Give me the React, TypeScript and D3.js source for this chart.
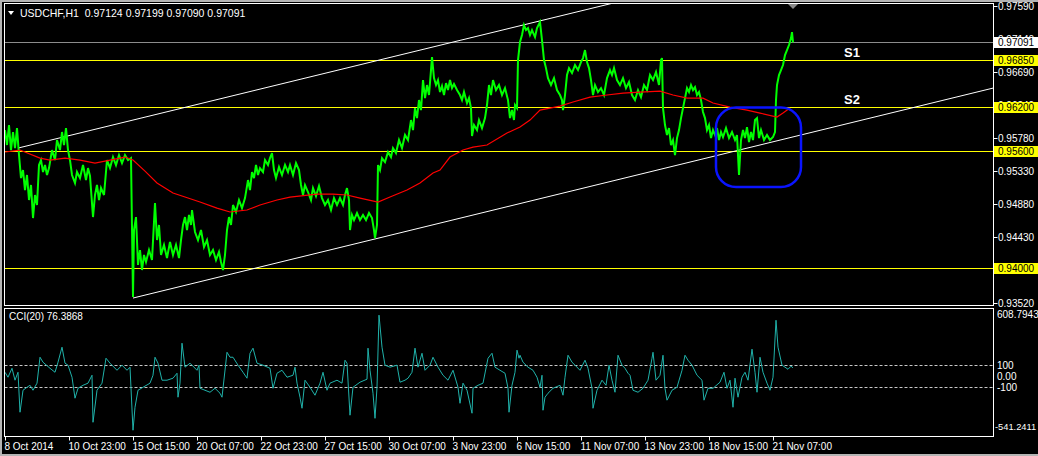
import { useEffect, useRef } from "react";
import * as d3 from "d3";

const title = "USDCHF,H1  0.97124 0.97199 0.97090 0.97091";
const cciTitle = "CCI(20) 76.3868";
const lastPrice = 0.97091;

const priceTicks = [0.9759, 0.9714, 0.9669, 0.9624, 0.9578, 0.9533, 0.9488, 0.9443, 0.9398, 0.9352];
const supportLevels = [0.9685, 0.962, 0.956, 0.94];
const levelNames: [string, number, number][] = [
  ["S1", 847, 0.9685],
  ["S2", 847, 0.962],
];

const timeLabels = [
  "8 Oct 2014", "10 Oct 23:00", "15 Oct 15:00", "20 Oct 07:00", "22 Oct 23:00",
  "27 Oct 15:00", "30 Oct 07:00", "3 Nov 23:00", "6 Nov 15:00", "11 Nov 07:00",
  "13 Nov 23:00", "18 Nov 15:00", "21 Nov 07:00",
];

// [bar, price]
const priceSeries: [number, number][] = [
  [0, 0.9589], [2, 0.95685], [4, 0.95959], [6, 0.95616], [8, 0.95863], [10, 0.95643], [12, 0.95917],
  [14, 0.95548], [16, 0.95232], [18, 0.95342], [20, 0.95068], [22, 0.95274], [24, 0.94931], [26, 0.95137],
  [28, 0.94684], [30, 0.95], [32, 0.94863], [34, 0.95411], [36, 0.95479], [38, 0.95315], [40, 0.95411],
  [42, 0.95274], [44, 0.95369], [47, 0.95616], [50, 0.95479], [52, 0.95753], [55, 0.95616], [57, 0.95863],
  [59, 0.95685], [61, 0.95917], [63, 0.95616], [65, 0.95479], [67, 0.95274], [70, 0.95164], [72, 0.95315],
  [75, 0.95232], [78, 0.95411], [81, 0.95205], [83, 0.95369], [85, 0.9526], [88, 0.94698], [90, 0.95],
  [92, 0.95137], [94, 0.94931], [96, 0.95095], [99, 0.95], [102, 0.95479], [105, 0.95369], [108, 0.9552],
  [111, 0.95411], [114, 0.95548], [117, 0.95438], [120, 0.95548], [123, 0.95479], [126, 0.95506],
  [128, 0.93602], [129, 0.9452], [131, 0.94698], [133, 0.94041], [135, 0.94246], [137, 0.93972],
  [139, 0.94178], [141, 0.94082], [144, 0.94246], [147, 0.94109], [150, 0.9489], [152, 0.94383],
  [154, 0.94589], [156, 0.94178], [159, 0.94315], [162, 0.94136], [165, 0.94356], [168, 0.94178],
  [171, 0.94315], [174, 0.94136], [176, 0.94383], [178, 0.94589], [180, 0.94698], [182, 0.9452],
  [184, 0.94726], [186, 0.94589], [187, 0.94794], [190, 0.94493], [193, 0.94383], [196, 0.9452],
  [199, 0.94287], [202, 0.94383], [205, 0.94178], [208, 0.94246], [211, 0.94109], [214, 0.94219],
  [216, 0.94082], [218, 0.93972], [220, 0.94178], [222, 0.9452], [224, 0.94698], [226, 0.94589],
  [228, 0.94863], [231, 0.94767], [234, 0.94931], [237, 0.94821], [240, 0.94958], [243, 0.95205],
  [245, 0.95068], [247, 0.95315], [249, 0.95232], [251, 0.95411], [253, 0.95274], [255, 0.95369],
  [258, 0.95315], [260, 0.95479], [263, 0.95411], [265, 0.95506], [267, 0.95575], [269, 0.95342],
  [271, 0.95232], [274, 0.95383], [277, 0.95274], [280, 0.95411], [283, 0.95315], [285, 0.95411],
  [288, 0.95274], [291, 0.95438], [294, 0.95342], [296, 0.95137], [298, 0.95], [300, 0.95137],
  [303, 0.95041], [306, 0.94931], [308, 0.95095], [311, 0.94986], [314, 0.95123], [317, 0.94958],
  [320, 0.94863], [323, 0.94931], [326, 0.94794], [329, 0.94958], [332, 0.94863], [335, 0.94958],
  [338, 0.94863], [340, 0.95], [342, 0.95095], [344, 0.94931], [345, 0.9452], [347, 0.94726],
  [349, 0.94657], [352, 0.94753], [355, 0.94657], [358, 0.94726], [361, 0.94657], [364, 0.94753],
  [367, 0.94684], [369, 0.9452], [370, 0.9441], [372, 0.94589], [373, 0.95411], [375, 0.95342],
  [377, 0.95506], [380, 0.95452], [383, 0.95589], [386, 0.9552], [388, 0.95643], [391, 0.95575],
  [394, 0.95753], [397, 0.95643], [400, 0.95822], [403, 0.95753], [406, 0.96027], [408, 0.9589],
  [410, 0.96191], [412, 0.96054], [414, 0.96301], [416, 0.96164], [418, 0.96575], [420, 0.96328],
  [422, 0.96507], [424, 0.9637], [426, 0.96712], [427, 0.9689], [429, 0.96602], [431, 0.96507],
  [433, 0.96575], [435, 0.96411], [437, 0.96493], [439, 0.9637], [441, 0.96534], [443, 0.96438],
  [445, 0.96575], [447, 0.96465], [449, 0.9652], [452, 0.96438], [455, 0.9637], [457, 0.96301],
  [459, 0.96411], [462, 0.9626], [464, 0.96328], [466, 0.96191], [467, 0.95808], [469, 0.95959],
  [472, 0.9589], [474, 0.96027], [477, 0.95917], [480, 0.96054], [482, 0.96233], [484, 0.96507],
  [486, 0.9637], [488, 0.96575], [491, 0.96438], [494, 0.96507], [497, 0.9637], [500, 0.96465],
  [503, 0.96301], [505, 0.96054], [507, 0.96164], [509, 0.96027], [510, 0.96233], [512, 0.96191],
  [513, 0.96849], [515, 0.97096], [517, 0.97192], [519, 0.97329], [521, 0.9726], [523, 0.97287],
  [525, 0.97192], [527, 0.9726], [530, 0.97164], [532, 0.97287], [535, 0.9737], [537, 0.97123],
  [539, 0.96849], [541, 0.96739], [543, 0.96602], [546, 0.96507], [549, 0.96602], [552, 0.96438],
  [555, 0.9637], [557, 0.96301], [558, 0.96164], [560, 0.9637], [562, 0.96644], [564, 0.96739],
  [567, 0.96671], [570, 0.96781], [573, 0.96712], [576, 0.96822], [578, 0.96876], [580, 0.96986],
  [582, 0.96822], [584, 0.96739], [586, 0.96575], [588, 0.9637], [590, 0.96507], [593, 0.96411],
  [596, 0.96465], [599, 0.9637], [602, 0.96602], [605, 0.96712], [607, 0.96644], [609, 0.96739],
  [612, 0.96575], [615, 0.96507], [618, 0.96602], [621, 0.96465], [624, 0.96548], [627, 0.9637],
  [630, 0.96301], [633, 0.96438], [636, 0.96342], [639, 0.96507], [642, 0.96438], [645, 0.96644],
  [648, 0.96575], [651, 0.96685], [654, 0.96507], [656, 0.96849], [657, 0.96876], [658, 0.96191],
  [660, 0.95959], [662, 0.95822], [664, 0.95917], [666, 0.95685], [668, 0.95753], [670, 0.95548],
  [672, 0.9578], [674, 0.9589], [676, 0.96054], [678, 0.96191], [680, 0.96328], [682, 0.96465],
  [684, 0.96411], [686, 0.96507], [688, 0.96438], [690, 0.96479], [692, 0.9637], [694, 0.96411],
  [696, 0.96301], [698, 0.96137], [700, 0.96054], [702, 0.9589], [704, 0.95959], [706, 0.9578],
  [708, 0.9589], [710, 0.95822], [712, 0.95917], [714, 0.95753], [716, 0.95863], [718, 0.95794],
  [721, 0.95917], [724, 0.9578], [727, 0.95863], [730, 0.95753], [732, 0.95822], [734, 0.95274],
  [736, 0.95753], [738, 0.9589], [740, 0.9578], [742, 0.95931], [744, 0.95726], [746, 0.95863],
  [748, 0.95753], [750, 0.96027], [752, 0.96054], [754, 0.9578], [756, 0.9589], [759, 0.95753],
  [762, 0.95822], [765, 0.95753], [768, 0.95794], [770, 0.95863], [771, 0.96301], [772, 0.96507],
  [774, 0.96644], [776, 0.96712], [778, 0.96781], [780, 0.96918], [782, 0.96986], [784, 0.97055],
  [786, 0.9715], [787, 0.97233], [788, 0.97091],
];

// moving average (red)
const maSeries: [number, number][] = [
  [0, 0.95589], [15, 0.95616], [35, 0.95506], [45, 0.95479], [60, 0.95506], [75, 0.95479], [90, 0.95438],
  [105, 0.95479], [120, 0.9552], [128, 0.95479], [140, 0.95328], [152, 0.95164], [168, 0.95027],
  [180, 0.94972], [195, 0.94904], [212, 0.94821], [225, 0.94767], [242, 0.94794], [255, 0.94863],
  [272, 0.94931], [285, 0.94972], [312, 0.95013], [328, 0.95013], [342, 0.95], [355, 0.94958],
  [373, 0.94904], [385, 0.94972], [402, 0.95068], [415, 0.95164], [428, 0.95301], [435, 0.95342],
  [445, 0.9552], [458, 0.95616], [468, 0.95657], [482, 0.95685], [502, 0.95849], [515, 0.95931],
  [525, 0.96027], [535, 0.96164], [555, 0.96219], [568, 0.96274], [585, 0.96342], [602, 0.9637],
  [618, 0.96397], [635, 0.96411], [655, 0.96424], [668, 0.9637], [682, 0.96328], [698, 0.96328],
  [708, 0.9626], [725, 0.96205], [742, 0.96164], [755, 0.96123], [772, 0.96068], [778, 0.96123],
  [785, 0.96191],
];

const cciSeries: [number, number][] = [
  [0, 36], [3, -9], [7, 72], [10, -36], [13, 36], [15, -326], [18, -127], [22, -100], [25, -82], [28, -127],
  [32, -63], [35, 172], [38, 127], [45, 72], [50, 36], [53, 127], [57, 263], [60, 118], [63, 100], [67, -9],
  [70, -199], [73, -109], [78, -82], [83, -63], [87, 9], [88, -417], [92, -127], [97, -63], [101, 163],
  [105, 118], [112, 54], [117, 100], [122, 54], [125, 82], [128, -489], [130, -281], [133, -127],
  [138, -100], [145, -63], [148, 9], [150, 172], [153, 118], [157, -36], [162, -36], [168, -18], [172, 27],
  [173, -190], [175, -63], [177, 299], [180, 82], [185, 118], [192, 54], [194, 100], [195, -109],
  [200, -127], [205, -145], [210, -109], [215, -154], [217, -190], [222, 217], [225, 172], [228, 172],
  [233, 100], [238, 36], [242, -18], [245, 208], [248, 254], [252, 118], [258, 100], [265, 72],
  [268, -109], [272, 27], [277, 54], [282, -9], [288, 9], [290, 82], [292, -63], [295, -190], [297, -290],
  [300, -36], [305, -100], [310, -172], [315, -63], [318, 36], [322, -127], [325, -63], [332, -36],
  [337, -63], [340, 145], [342, 118], [345, -353], [348, -100], [355, -54], [362, -27], [363, 254],
  [365, 54], [368, -154], [370, -381], [372, -100], [374, 553], [377, 263], [380, 100], [385, 82],
  [392, 100], [395, -54], [400, -36], [403, -18], [407, 36], [410, 254], [413, 82], [417, 208], [420, 54],
  [425, 100], [428, 172], [433, 82], [438, 9], [443, -36], [448, 54], [453, -100], [455, -245], [458, -63],
  [462, -127], [467, -335], [468, -109], [473, -82], [478, -63], [483, 163], [487, 208], [490, 82],
  [495, 54], [500, 27], [503, -109], [504, -326], [507, -82], [510, 36], [512, 236], [514, 163], [515, 190],
  [518, 127], [523, 82], [528, 54], [532, -9], [535, -100], [537, 9], [538, -308], [540, -190], [543, -154],
  [548, -109], [555, -82], [558, -172], [560, -9], [563, 190], [567, 127], [570, 100], [575, 54], [580, 145],
  [583, 72], [587, -109], [588, -290], [592, -127], [597, -36], [601, -82], [604, 100], [607, -36],
  [610, -145], [613, 190], [617, 100], [620, 72], [623, 27], [625, 9], [628, -127], [633, -145],
  [638, -109], [643, -36], [647, 163], [648, 217], [651, -36], [655, 9], [658, 190], [660, -109],
  [662, -217], [667, -127], [672, -100], [677, 54], [680, 190], [683, 145], [687, 100], [692, 9],
  [697, -36], [699, -217], [703, -109], [708, -109], [715, -54], [719, 36], [722, -109], [725, -36],
  [728, -281], [730, -18], [733, -190], [737, -9], [740, 36], [743, -36], [747, 245], [750, 36],
  [752, -145], [755, 172], [758, 36], [762, -63], [765, -127], [768, -9], [771, 507], [773, 263],
  [777, 100], [780, 82], [783, 63], [786, 91], [788, 76.3868],
];
const cciLevels = [100, -100];
const cciLabels: [number, string][] = [
  [608.7943, "608.7943"], [100, "100"], [0, "0.00"], [-100, "-100"], [-541.2411, "-541.2411"],
];

// trend channel anchors [bar, price]
const upperChannel: [number, number][] = [[13, 0.95643], [600, 0.97603]];
const lowerChannel: [number, number][] = [[128, 0.93588], [988, 0.96465]];
// highlighted consolidation zone
const zoneBars = [711, 796];
const zonePrices = [0.962, 0.9511];

const W = 1038;
const H = 456;
const FONT = "'Liberation Sans', Arial, sans-serif";
const FS = 10;

export default function App() {
  const ref = useRef<SVGSVGElement>(null);

  useEffect(() => {
    const svg = d3.select(ref.current);
    svg.selectAll("*").remove();

    const left = 4.5, right = 993.5;
    const mainTop = 3.5, mainBottom = 305.5;
    const subTop = 308.5, subBottom = 436.5;

    const x = d3.scaleLinear().domain([0, 988]).range([5, 993]);
    const y = d3.scaleLinear().domain([0.9352, 0.9759]).range([303, 6]);
    const yc = d3.scaleLinear().domain([-541.2411, 608.7943]).range([436, 309]);

    svg.append("rect").attr("width", W).attr("height", H).attr("fill", "#000");

    const defs = svg.append("defs");
    defs.append("clipPath").attr("id", "clipMain").append("rect")
      .attr("x", left).attr("y", mainTop).attr("width", right - left).attr("height", mainBottom - mainTop);
    defs.append("clipPath").attr("id", "clipSub").append("rect")
      .attr("x", left).attr("y", subTop).attr("width", right - left).attr("height", subBottom - subTop);

    const main = svg.append("g").attr("clip-path", "url(#clipMain)");

    // support levels
    main.selectAll("line.lvl").data(supportLevels).enter().append("line")
      .attr("x1", left).attr("x2", right)
      .attr("y1", (d) => Math.round(y(d)) + 0.5).attr("y2", (d) => Math.round(y(d)) + 0.5)
      .attr("stroke", "#ffff00").attr("stroke-width", 1);

    // last price line
    main.append("line")
      .attr("x1", left).attr("x2", right)
      .attr("y1", Math.round(y(lastPrice)) + 0.5).attr("y2", Math.round(y(lastPrice)) + 0.5)
      .attr("stroke", "#8c8c8c");

    // channel rays
    const ray = (a: [number, number][], endBar: number) => {
      const slope = (a[1][1] - a[0][1]) / (a[1][0] - a[0][0]);
      return [a[0], [endBar, a[0][1] + slope * (endBar - a[0][0])]] as [number, number][];
    };
    const seg = d3.line<[number, number]>().x((d) => x(d[0])).y((d) => y(d[1]));
    [ray(upperChannel, 988), ray(lowerChannel, 988)].forEach((pts) => {
      main.append("path").attr("d", seg(pts)).attr("fill", "none")
        .attr("stroke", "#ffffff").attr("stroke-width", 1);
    });

    // price
    main.append("path").datum(priceSeries).attr("d", seg)
      .attr("fill", "none").attr("stroke", "#00ff00").attr("stroke-width", 2)
      .attr("stroke-linejoin", "miter");

    // moving average
    main.append("path").datum(maSeries).attr("d", seg)
      .attr("fill", "none").attr("stroke", "#ff0000").attr("stroke-width", 1.2);

    // zone box
    main.append("rect")
      .attr("x", x(zoneBars[0])).attr("y", y(zonePrices[0]))
      .attr("width", x(zoneBars[1]) - x(zoneBars[0]))
      .attr("height", y(zonePrices[1]) - y(zonePrices[0]))
      .attr("rx", 20).attr("ry", 20)
      .attr("fill", "none").attr("stroke", "#0a14ff").attr("stroke-width", 2.5);

    // S1 / S2
    main.selectAll("text.lvlname").data(levelNames).enter().append("text")
      .attr("x", (d) => x(d[1])).attr("y", (d) => y(d[2]) - 3)
      .attr("text-anchor", "middle").attr("fill", "#ffffff")
      .attr("font-family", FONT).attr("font-weight", "bold").attr("font-size", 13)
      .text((d) => d[0]);

    // title
    svg.append("path").attr("d", "M8,11 L14,11 L11,15 Z").attr("fill", "#ffffff");
    svg.append("text").attr("x", 20).attr("y", 16.5)
      .attr("fill", "#ffffff").attr("font-family", FONT).attr("font-size", 10.5)
      .style("white-space", "pre").text(title);

    // shift marker
    const sx = x(788);
    svg.append("path").attr("d", `M${sx - 5},4 L${sx + 5},4 L${sx},9 Z`).attr("fill", "#8a8a8a");

    // price axis
    const axis = svg.append("g");
    priceTicks.forEach((t) => {
      const ty = Math.round(y(t)) + 0.5;
      axis.append("line").attr("x1", right).attr("x2", right + 4).attr("y1", ty).attr("y2", ty)
        .attr("stroke", "#ffffff");
      axis.append("text").attr("x", 998).attr("y", ty + 3.5)
        .attr("fill", "#ffffff").attr("font-family", FONT).attr("font-size", FS)
        .text(t.toFixed(5));
    });

    const tag = (p: number, bg: string) => {
      const ty = Math.round(y(p)) + 0.5;
      axis.append("rect").attr("x", 994).attr("y", ty - 5.5).attr("width", 44).attr("height", 11)
        .attr("fill", bg);
      axis.append("text").attr("x", 998).attr("y", ty + 3.5)
        .attr("fill", "#000000").attr("font-family", FONT).attr("font-size", FS)
        .text(p.toFixed(5));
    };
    supportLevels.forEach((p) => tag(p, "#ffff00"));
    tag(lastPrice, "#ffffff");

    // CCI sub window
    const sub = svg.append("g").attr("clip-path", "url(#clipSub)");
    sub.selectAll("line.cl").data(cciLevels).enter().append("line")
      .attr("x1", left).attr("x2", right)
      .attr("y1", (d) => Math.round(yc(d)) + 0.5).attr("y2", (d) => Math.round(yc(d)) + 0.5)
      .attr("stroke", "#c8c8c8").attr("stroke-dasharray", "3,2");
    const cciLine = d3.line<[number, number]>().x((d) => x(d[0])).y((d) => yc(d[1]));
    sub.append("path").datum(cciSeries).attr("d", cciLine)
      .attr("fill", "none").attr("stroke", "#20b2aa").attr("stroke-width", 1);

    svg.append("text").attr("x", 9).attr("y", 320)
      .attr("fill", "#ffffff").attr("font-family", FONT).attr("font-size", FS)
      .text(cciTitle);

    cciLabels.forEach(([v, label]) => {
      const ty = Math.round(yc(v)) + 0.5;
      const isMin = v === -541.2411;
      const ly = v === 608.7943 ? ty + 8 : isMin ? ty - 7 : ty + 3.5;
      svg.append("text").attr("x", isMin ? 995 : 997).attr("y", ly)
        .attr("fill", "#ffffff").attr("font-family", FONT).attr("font-size", isMin ? 9.3 : FS)
        .text(label);
    });

    // panel frames
    svg.append("rect").attr("x", left).attr("y", mainTop)
      .attr("width", right - left).attr("height", mainBottom - mainTop)
      .attr("fill", "none").attr("stroke", "#ffffff");
    svg.append("rect").attr("x", left).attr("y", subTop)
      .attr("width", right - left).attr("height", subBottom - subTop)
      .attr("fill", "none").attr("stroke", "#ffffff");

    // time axis
    timeLabels.forEach((label, i) => {
      const tx = Math.round(x(i * 64)) + 0.5;
      svg.append("line").attr("x1", tx).attr("x2", tx).attr("y1", subBottom).attr("y2", subBottom + 4)
        .attr("stroke", "#ffffff");
      svg.append("text").attr("x", tx - 1).attr("y", 450)
        .attr("fill", "#ffffff").attr("font-family", FONT).attr("font-size", FS)
        .text(label);
    });

    // outer window edge
    svg.append("path").attr("d", `M1,${H} L1,1 L${W},1`).attr("fill", "none")
      .attr("stroke", "#b4b4b4").attr("stroke-width", 2);
    svg.append("line").attr("x1", 0).attr("x2", W).attr("y1", H - 1).attr("y2", H - 1)
      .attr("stroke", "#b4b4b4").attr("stroke-width", 2);
  }, []);

  return (
    <svg
      ref={ref}
      width={W}
      height={H}
      style={{ position: "absolute", left: 0, top: 0, display: "block" }}
    />
  );
}
